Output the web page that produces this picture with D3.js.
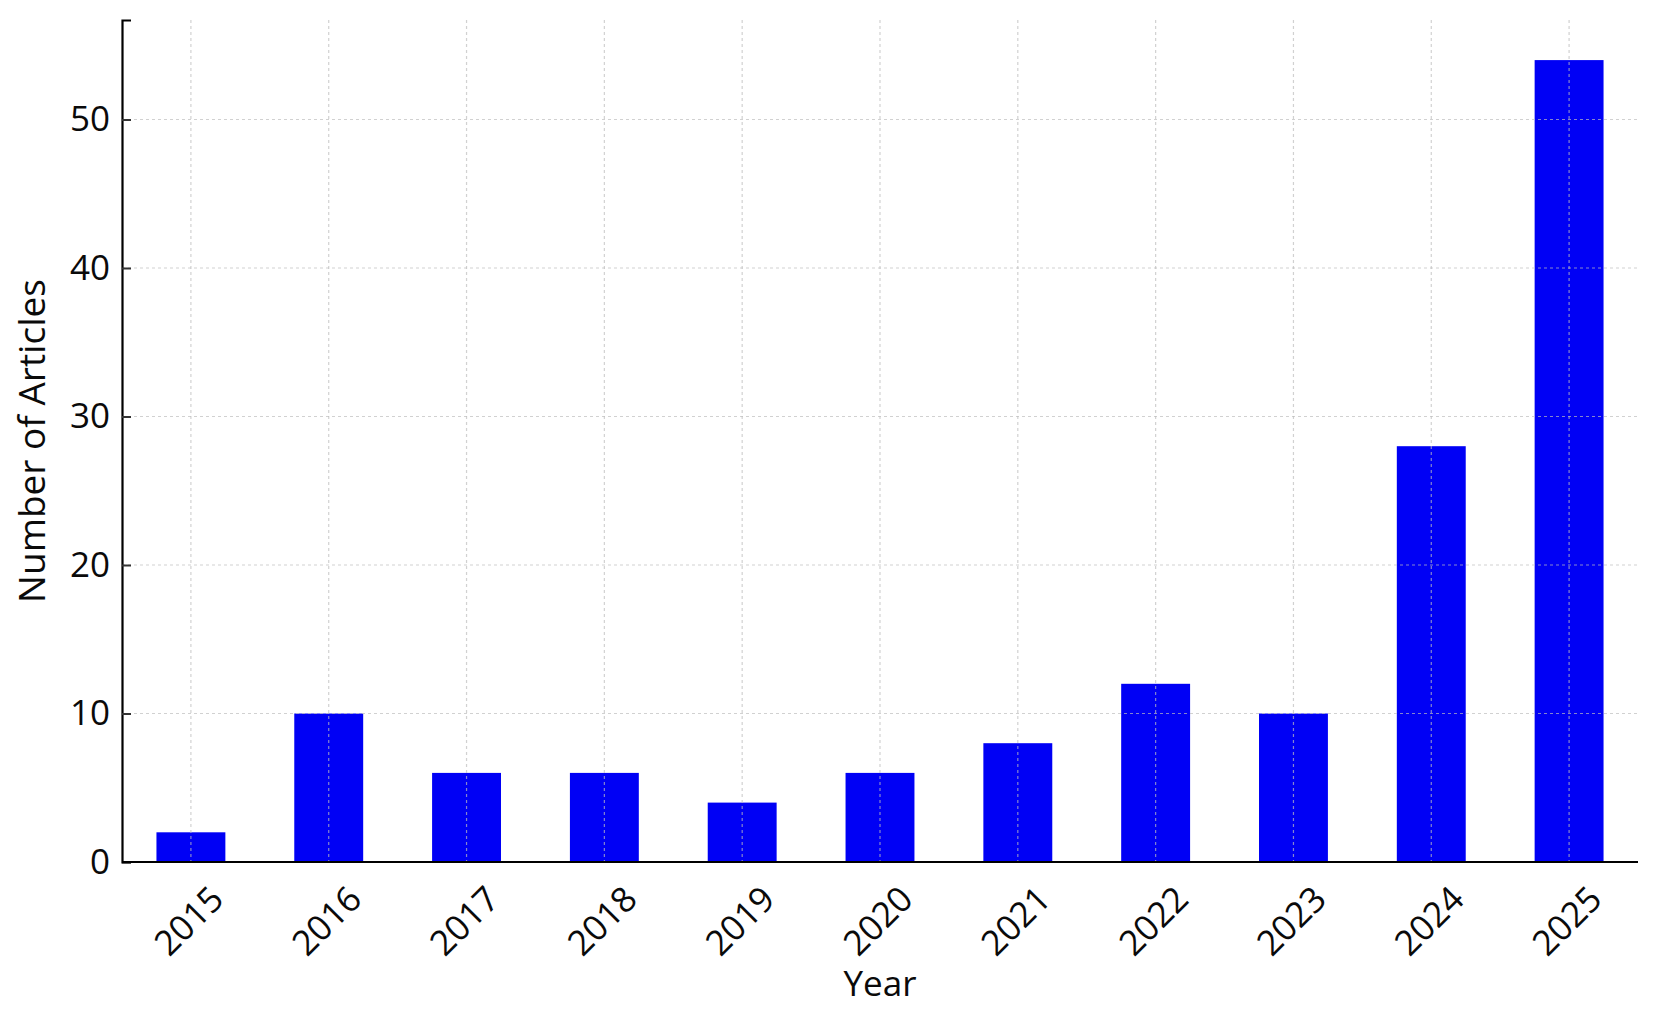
<!DOCTYPE html>
<html>
<head>
<meta charset="utf-8">
<script src="https://cdn.jsdelivr.net/npm/d3@7"></script>
<style>
  html, body { margin: 0; padding: 0; background: #fff; }
  svg { display: block; }
  text { font-family: "Open Sans", "DejaVu Sans", sans-serif; fill: #0a0a0a; }
</style>
</head>
<body>
<svg id="chart" width="1654" height="1012"></svg>
<script>
const years = ["2015","2016","2017","2018","2019","2020","2021","2022","2023","2024","2025"];
const articles = [2, 10, 6, 6, 4, 6, 8, 12, 10, 28, 54];
const yTicks = [0, 10, 20, 30, 40, 50];
const xTitle = "Year";
const yTitle = "Number of Articles";

const W = 1654, H = 1012;
const m = {left: 122, right: W - 1638, top: 20, bottom: H - 862};
const svg = d3.select("#chart");

const x = d3.scaleBand().domain(years)
  .range([m.left, W - m.right]).paddingInner(0.5).paddingOuter(0.25);
const y = d3.scaleLinear().domain([0, d3.max(articles) * 1.05])
  .range([H - m.bottom, m.top]);

// bars
svg.append("g").selectAll("rect").data(years).join("rect")
  .attr("x", d => x(d))
  .attr("y", (d, i) => y(articles[i]))
  .attr("width", x.bandwidth())
  .attr("height", (d, i) => y(0) - y(articles[i]))
  .attr("fill", "#0000f5");

// grid (drawn over bars, light dashed)
const grid = svg.append("g").attr("stroke", "rgb(190,190,190)").attr("stroke-opacity", 0.7)
  .attr("stroke-width", 1.2).attr("stroke-dasharray", "3,3");
grid.selectAll("line.h").data(yTicks.filter(t => t > 0)).join("line")
  .attr("class", "h")
  .attr("x1", m.left).attr("x2", W - m.right)
  .attr("y1", d => y(d)).attr("y2", d => y(d));
grid.selectAll("line.v").data(years).join("line")
  .attr("class", "v")
  .attr("x1", d => x(d) + x.bandwidth() / 2).attr("x2", d => x(d) + x.bandwidth() / 2)
  .attr("y1", m.top).attr("y2", H - m.bottom);

// y axis
const yAxis = svg.append("g").attr("transform", `translate(${m.left},0)`)
  .call(d3.axisLeft(y).tickValues(yTicks).tickSize(-9).tickPadding(12).tickFormat(d3.format("d")));
yAxis.select(".domain").attr("stroke", "#000").attr("stroke-width", 2.2);
yAxis.selectAll(".tick line").attr("stroke", "#333").attr("stroke-width", 2);
yAxis.selectAll(".tick text").attr("font-size", 35).attr("fill", "#0a0a0a")
  .style("font-family", '"Open Sans", sans-serif');

// x axis
const xAxis = svg.append("g").attr("transform", `translate(0,${H - m.bottom})`)
  .call(d3.axisBottom(x).tickSize(0).tickFormat(d => d));
xAxis.select(".domain").attr("stroke", "#000").attr("stroke-width", 2.2)
  .attr("d", `M${m.left},0H${W - m.right}`);
xAxis.selectAll(".tick text")
  .attr("font-size", 35).attr("fill", "#0a0a0a")
  .style("font-family", '"Open Sans", sans-serif')
  .attr("text-anchor", "middle")
  .attr("dy", null)
  .attr("x", -3)
  .attr("y", 58)
  .attr("dominant-baseline", "central")
  .attr("transform", "rotate(-45,-3,58)");

// titles
svg.append("text").attr("x", (m.left + W - m.right) / 2).attr("y", 996)
  .attr("text-anchor", "middle").attr("font-size", 35).text(xTitle);
svg.append("text").attr("transform", `translate(45,${(m.top + H - m.bottom) / 2}) rotate(-90)`)
  .attr("text-anchor", "middle").attr("font-size", 37).text(yTitle);
</script>
</body>
</html>
